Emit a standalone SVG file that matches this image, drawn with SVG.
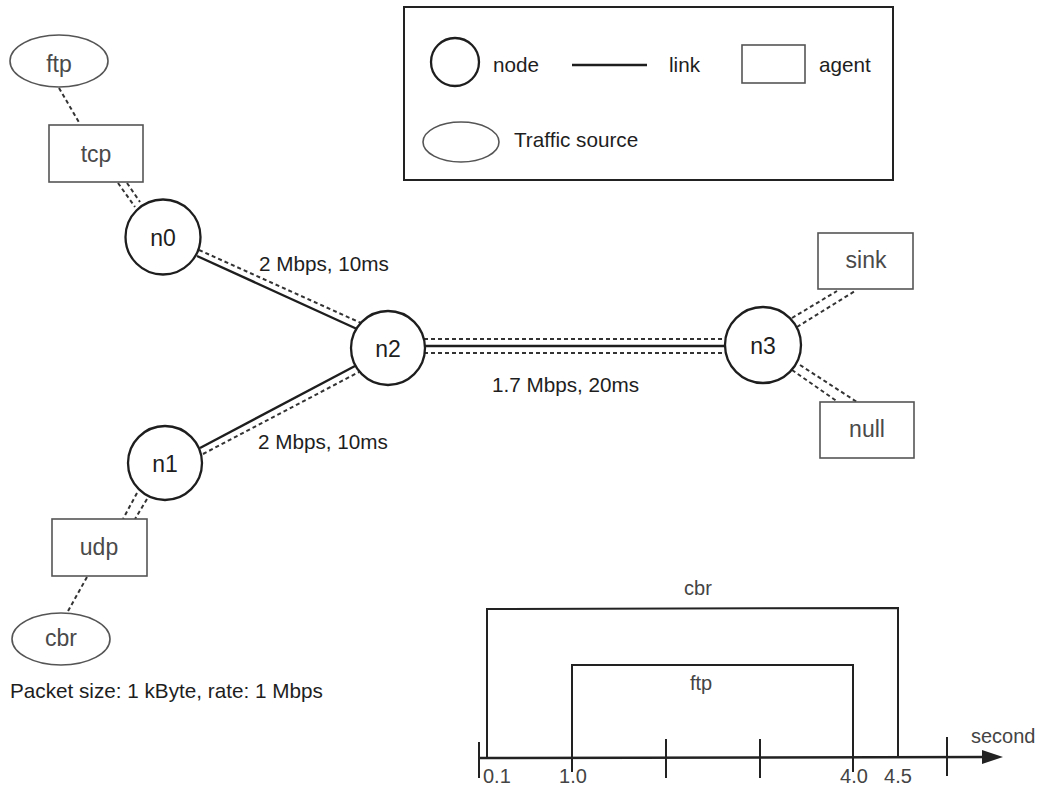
<svg xmlns="http://www.w3.org/2000/svg" width="1045" height="787" viewBox="0 0 1045 787">
<defs>
<style>
text{font-family:"Liberation Sans",Arial,sans-serif;}
.node{fill:#fff;stroke:#1e1e1e;stroke-width:2.3;}
.agent{fill:#fff;stroke:#555;stroke-width:1.6;}
.src{fill:#fff;stroke:#555;stroke-width:1.6;}
.nl{font-size:23px;fill:#1e1e1e;text-anchor:middle;}
.al{font-size:23px;fill:#4a4a4a;text-anchor:middle;}
.lbl{font-size:20.7px;fill:#1e1e1e;}
.tl{font-size:20px;fill:#444;}
.solid{stroke:#1e1e1e;stroke-width:2.4;fill:none;}
.dash{stroke:#333;stroke-width:2;stroke-dasharray:4 3;fill:none;}
.tline{stroke:#222;stroke-width:2;fill:none;}
</style>
</defs>
<rect width="1045" height="787" fill="#fff"/>

<g id="legend">
<rect x="404" y="7" width="489" height="173" fill="none" stroke="#222" stroke-width="2"/>
<circle cx="455" cy="62" r="24" class="node"/>
<text x="493" y="72" class="lbl">node</text>
<line x1="572" y1="65" x2="647" y2="65" class="solid"/>
<text x="669" y="72" class="lbl">link</text>
<rect x="742" y="45" width="63" height="38" class="agent"/>
<text x="819" y="72" class="lbl">agent</text>
<ellipse cx="461" cy="142" rx="38" ry="20" class="src"/>
<text x="514" y="147" class="lbl">Traffic source</text>
</g>

<g id="connectors">
<line x1="59" y1="88" x2="80" y2="124" class="dash"/>
<line x1="118" y1="183" x2="135" y2="207" class="dash"/>
<line x1="127" y1="183" x2="140" y2="202" class="dash"/>
<line x1="197" y1="256" x2="357" y2="329" class="solid"/>
<line x1="199" y1="250" x2="361" y2="323" class="dash"/>
<line x1="200" y1="448" x2="355" y2="366" class="solid"/>
<line x1="203" y1="454" x2="359" y2="372" class="dash"/>
<line x1="425" y1="346" x2="726" y2="346" class="solid"/>
<line x1="424" y1="339" x2="727" y2="339" class="dash"/>
<line x1="424" y1="353" x2="727" y2="353" class="dash"/>
<line x1="792" y1="318" x2="837" y2="291" class="dash"/>
<line x1="797" y1="327" x2="855" y2="291" class="dash"/>
<line x1="800" y1="365" x2="857" y2="402" class="dash"/>
<line x1="792" y1="370" x2="838" y2="402" class="dash"/>
<line x1="137" y1="493" x2="123" y2="519" class="dash"/>
<line x1="147" y1="499" x2="135" y2="519" class="dash"/>
<line x1="87" y1="577" x2="67" y2="613" class="dash"/>
</g>

<g id="ftp-src"><ellipse cx="59" cy="61" rx="49" ry="26" class="src"/><text x="59" y="72" class="al">ftp</text></g>
<g id="tcp"><rect x="49" y="125" width="94" height="57" class="agent"/><text x="96" y="162" class="al">tcp</text></g>
<g id="n0"><circle cx="163" cy="237" r="37.5" class="node"/><text x="163" y="246" class="nl">n0</text></g>
<g id="n1"><circle cx="165" cy="463" r="37" class="node"/><text x="165" y="472" class="nl">n1</text></g>
<g id="n2"><circle cx="388" cy="348" r="37" class="node"/><text x="388" y="357" class="nl">n2</text></g>
<g id="n3"><circle cx="763" cy="345" r="38" class="node"/><text x="763" y="354" class="nl">n3</text></g>
<g id="udp"><rect x="52" y="519" width="95" height="57" class="agent"/><text x="99" y="555" class="al">udp</text></g>
<g id="cbr-src"><ellipse cx="61" cy="639" rx="49" ry="26" class="src"/><text x="61" y="646" class="al">cbr</text></g>
<g id="sink"><rect x="818" y="233" width="95" height="56" class="agent"/><text x="866" y="268" class="al">sink</text></g>
<g id="null"><rect x="820" y="402" width="94" height="56" class="agent"/><text x="867" y="437" class="al">null</text></g>

<g id="labels">
<text x="259" y="271" class="lbl">2 Mbps, 10ms</text>
<text x="492" y="392" class="lbl">1.7 Mbps, 20ms</text>
<text x="258" y="449" class="lbl">2 Mbps, 10ms</text>
<text x="10" y="698" class="lbl">Packet size: 1 kByte, rate: 1 Mbps</text>
</g>

<g id="timeline">
<polyline points="487,758 487,609 898,608 898,758" class="tline"/>
<polyline points="572,772 572,665 853,665 853,772" class="tline"/>
<line x1="479" y1="758" x2="990" y2="757" stroke="#222" stroke-width="2.6"/>
<polygon points="982,750 1003,757 982,764" fill="#222"/>
<line x1="479" y1="742" x2="479" y2="778" class="tline"/>
<line x1="666" y1="739" x2="666" y2="778" class="tline"/>
<line x1="760" y1="739" x2="760" y2="778" class="tline"/>
<line x1="947" y1="737" x2="947" y2="776" class="tline"/>
<text x="698" y="595" class="tl" font-size="21" text-anchor="middle">cbr</text>
<text x="701" y="690" class="tl" font-size="21" text-anchor="middle">ftp</text>
<text x="971" y="743" class="tl" fill="#1e1e1e">second</text>
<text x="483" y="783" class="tl">0.1</text>
<text x="573" y="783" class="tl" text-anchor="middle">1.0</text>
<text x="854" y="783" class="tl" text-anchor="middle">4.0</text>
<text x="898" y="783" class="tl" text-anchor="middle">4.5</text>
</g>
</svg>
